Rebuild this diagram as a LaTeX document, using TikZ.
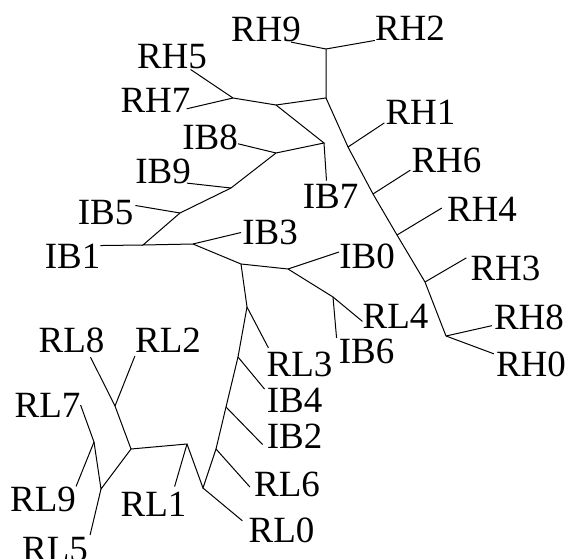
\documentclass[tikz,border=0pt]{standalone}
\usepackage{fontspec}
\setmainfont{Liberation Serif}
\begin{document}
\begin{tikzpicture}[x=1pt,y=-1pt,
  leaf/.style={inner sep=0pt,font=\fontsize{37}{40}\selectfont},
  branch/.style={line width=1pt,black}]
\useasboundingbox (0,0) rectangle (570,559);

% internal vertices of the tree
\coordinate (a1) at (326,49);
\coordinate (a2) at (326,98);
\coordinate (a3) at (276,105);
\coordinate (a4) at (233,98);
\coordinate (a5) at (324,143);
\coordinate (a6) at (276,153);
\coordinate (a7) at (231,188);
\coordinate (a8) at (180,213);
\coordinate (a9) at (143,245);
\coordinate (a10) at (193,244);
\coordinate (a11) at (241,264);
\coordinate (a12) at (288,269);
\coordinate (a13) at (333,297);
\coordinate (a14) at (247,307);
\coordinate (a15) at (238,357);
\coordinate (a16) at (226,407);
\coordinate (a17) at (216,449);
\coordinate (a18) at (203,488);
\coordinate (a19) at (187,444);
\coordinate (a20) at (131,449);
\coordinate (a21) at (115,406);
\coordinate (a22) at (101,489);
\coordinate (a23) at (94,442);
\coordinate (b1) at (348,147);
\coordinate (b2) at (373,194);
\coordinate (b3) at (397,235);
\coordinate (b4) at (425,282);
\coordinate (b5) at (446,336);

% leaf labels
\node[leaf] (RH9) at (266,29.5) {RH9};
\node[leaf] (RH2) at (410,28) {RH2};
\node[leaf] (RH5) at (172,57) {RH5};
\node[leaf] (RH7) at (155.5,100.5) {RH7};
\node[leaf] (IB8) at (210,137) {IB8};
\node[leaf] (IB9) at (163,171.5) {IB9};
\node[leaf] (IB7) at (330.5,196) {IB7};
\node[leaf] (RH1) at (420.5,112.5) {RH1};
\node[leaf] (RH6) at (446.5,160.5) {RH6};
\node[leaf] (RH4) at (482,209.5) {RH4};
\node[leaf] (RH3) at (505.5,268.5) {RH3};
\node[leaf] (RH8) at (529,317) {RH8};
\node[leaf] (RH0) at (531,364.5) {RH0};
\node[leaf] (IB0) at (367,256) {IB0};
\node[leaf] (RL4) at (395.5,316) {RL4};
\node[leaf] (IB6) at (366.5,351.5) {IB6};
\node[leaf] (IB3) at (270,232.5) {IB3};
\node[leaf] (IB5) at (105.5,213) {IB5};
\node[leaf] (IB1) at (72.5,256) {IB1};
\node[leaf] (RL3) at (299.5,364.5) {RL3};
\node[leaf] (IB4) at (294.5,400.5) {IB4};
\node[leaf] (IB2) at (294.5,436) {IB2};
\node[leaf] (RL6) at (287,484.5) {RL6};
\node[leaf] (RL0) at (281.5,530.5) {RL0};
\node[leaf] (RL1) at (153.5,504) {RL1};
\node[leaf] (RL8) at (71.5,340.5) {RL8};
\node[leaf] (RL2) at (168,340.5) {RL2};
\node[leaf] (RL7) at (47.5,405) {RL7};
\node[leaf] (RL9) at (43,499) {RL9};
\node[leaf] (RL5) at (55,549.5) {RL5};

% inner edges
\draw[branch] (a1) -- (a2) -- (a3) -- (a4);
\draw[branch] (a3) -- (a5) -- (a6) -- (a7) -- (a8) -- (a9) -- (a10) -- (a11) -- (a12) -- (a13);
\draw[branch] (a11) -- (a14) -- (a15) -- (a16) -- (a17) -- (a18) -- (a19) -- (a20) -- (a21);
\draw[branch] (a20) -- (a22) -- (a23);
\draw[branch] (a2) -- (b1) -- (b2) -- (b3) -- (b4) -- (b5);

% pendant edges
\draw[branch] (a1) -- ([xshift=-10pt]RH9.south east);
\draw[branch] (a1) -- (RH2.south west);
\draw[branch] (a4) -- (RH5);
\draw[branch] (a4) -- ([shift={(-4pt,4pt)}]RH7.south east);
\draw[branch] (a5) -- ([shift={(-4pt,3pt)}]IB7.north);
\draw[branch] (a6) -- (IB8);
\draw[branch] (a7) -- ([shift={(-4pt,1pt)}]IB9.south east);
\draw[branch] (a8) -- ([shift={(2pt,-5pt)}]IB5.north east);
\draw[branch] (a9) -- ([yshift=-2pt]IB1.north east);
\draw[branch] (a10) -- ([xshift=-1pt]IB3.west);
\draw[branch] (a12) -- ([yshift=4pt]IB0.west);
\draw[branch] (a13) -- ([yshift=7pt]RL4.south west);
\draw[branch] (a13) -- ([shift={(-2pt,1pt)}]IB6.north west);
\draw[branch] (a14) -- ([shift={(2pt,4pt)}]RL3.north west);
\draw[branch] (a15) -- ([shift={(-2pt,-1pt)}]IB4.north west);
\draw[branch] (a16) -- ([shift={(-4pt,4pt)}]IB2.south west);
\draw[branch] (a17) -- ([shift={(-4pt,-2.5pt)}]RL6.west);
\draw[branch] (a18) -- ([shift={(-6pt,-3pt)}]RL0.north west);
\draw[branch] (a19) -- ([shift={(-12pt,5pt)}]RL1.north east);
\draw[branch] (a21) -- ([shift={(19pt,-4pt)}]RL8.south);
\draw[branch] (a21) -- ([yshift=-3pt]RL2.south west);
\draw[branch] (a23) -- (RL7.east);
\draw[branch] (a23) -- (RL9.north east);
\draw[branch] (a22) -- ([shift={(2pt,2pt)}]RL5.north east);
\draw[branch] (b1) -- ([shift={(-1pt,2pt)}]RH1.south west);
\draw[branch] (b2) -- ([shift={(-1pt,3pt)}]RH6.south west);
\draw[branch] (b3) -- ([shift={(-5pt,1.5pt)}]RH4.west);
\draw[branch] (b4) -- ([shift={(-4pt,-2pt)}]RH3.north west);
\draw[branch] (b5) -- ([shift={(-2pt,4pt)}]RH8.south west);
\draw[branch] (b5) -- ([shift={(-2pt,-2pt)}]RH0.north west);
\end{tikzpicture}
\end{document}
